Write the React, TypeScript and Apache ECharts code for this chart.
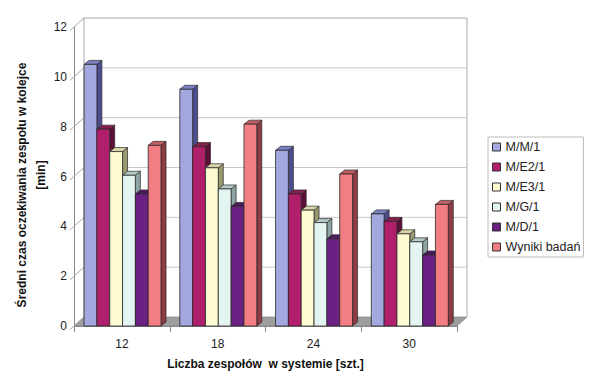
import React, { useEffect, useRef } from "react";
import * as echarts from "echarts";

const categories = ["12", "18", "24", "30"];
const seriesNames = ["M/M/1", "M/E2/1", "M/E3/1", "M/G/1", "M/D/1", "Wyniki badań"];
const mm1 = [10.5, 9.5, 7.05, 4.5];
const me21 = [7.9, 7.2, 5.3, 4.2];
const me31 = [7.0, 6.35, 4.65, 3.7];
const mg1 = [6.05, 5.5, 4.15, 3.38];
const md1 = [5.3, 4.8, 3.5, 2.85];
const wyniki = [7.25, 8.1, 6.1, 4.88];
const seriesValues = [mm1, me21, me31, mg1, md1, wyniki];
const yTicks = [0, 2, 4, 6, 8, 10, 12];

const frontColors = ["#a3a8de", "#b01f6b", "#fdfbd0", "#e4f4f1", "#6b2183", "#f27d82"];
const sideColors = ["#4c4c90", "#5c1038", "#9a9870", "#8ea4a2", "#3a0f47", "#8c3c42"];
const topColors = ["#7c80c4", "#85204f", "#d8d6a8", "#b4cac8", "#4e1a5e", "#c26066"];

const WALL_DX = 10;
const WALL_DY = -9;
const BAR_DX = 5;
const BAR_DY = -4;

export default function App() {
  const ref = useRef<HTMLDivElement>(null);
  useEffect(() => {
    if (!ref.current) return;
    const chart = echarts.init(ref.current, null, { renderer: "svg" });

    const barSeries = seriesValues.map((vals, k) => ({
      type: "custom",
      name: seriesNames[k],
      z: 3,
      itemStyle: { color: frontColors[k] },
      data: vals.map((v, i) => [i, v]),
      renderItem: (params: any, api: any) => {
        const ci = api.value(0);
        const v = api.value(1);
        const top = api.coord([ci, v]);
        const base = api.coord([ci, 0]);
        const band = api.size([1, 0])[0];
        const w = band * 0.134;
        const x = top[0] - band / 2 + band * 0.105 + k * w;
        const yT = top[1];
        const yB = base[1];
        const stroke = "#2a2a2a";
        return {
          type: "group",
          children: [
            {
              type: "polygon",
              shape: {
                points: [
                  [x + w, yT],
                  [x + w + BAR_DX, yT + BAR_DY],
                  [x + w + BAR_DX, yB + BAR_DY],
                  [x + w, yB],
                ],
              },
              style: { fill: sideColors[k], stroke, lineWidth: 0.7 },
            },
            {
              type: "polygon",
              shape: {
                points: [
                  [x, yT],
                  [x + BAR_DX, yT + BAR_DY],
                  [x + w + BAR_DX, yT + BAR_DY],
                  [x + w, yT],
                ],
              },
              style: { fill: topColors[k], stroke, lineWidth: 0.7 },
            },
            {
              type: "rect",
              shape: { x, y: yT, width: w, height: yB - yT },
              style: { fill: frontColors[k], stroke, lineWidth: 0.8 },
            },
          ],
        };
      },
    }));

    const frameSeries = {
      type: "custom",
      name: "frame",
      z: 1,
      silent: true,
      data: yTicks.map((v) => [0, v]),
      renderItem: (params: any, api: any) => {
        const cs = params.coordSys;
        const v = api.value(1);
        const y = api.coord([0, v])[1];
        const x0 = cs.x;
        const x1 = cs.x + cs.width;
        const children: any[] = [];
        if (v === 0) {
          const yTop = api.coord([0, yTicks[yTicks.length - 1]])[1];
          children.push({
            type: "polygon",
            shape: {
              points: [
                [x0, y],
                [x1, y],
                [x1 + WALL_DX, y + WALL_DY],
                [x0 + WALL_DX, y + WALL_DY],
              ],
            },
            style: { fill: "#9e9e9e", stroke: "#8a8a8a", lineWidth: 0.8 },
          });
          children.push({
            type: "line",
            shape: { x1: x0 + WALL_DX, y1: yTop + WALL_DY, x2: x0 + WALL_DX, y2: y + WALL_DY },
            style: { stroke: "#a8a8a8", lineWidth: 1 },
          });
          children.push({
            type: "line",
            shape: { x1: x1 + WALL_DX, y1: yTop + WALL_DY, x2: x1 + WALL_DX, y2: y + WALL_DY },
            style: { stroke: "#a8a8a8", lineWidth: 1 },
          });
        } else {
          children.push({
            type: "line",
            shape: { x1: x0 + WALL_DX, y1: y + WALL_DY, x2: x1 + WALL_DX, y2: y + WALL_DY },
            style: { stroke: v === 12 ? "#a8a8a8" : "#c8c8c8", lineWidth: 1 },
          });
        }
        children.push({
          type: "line",
          shape: { x1: x0 - 4, y1: y + 3.6, x2: x0 + WALL_DX, y2: y + WALL_DY },
          style: { stroke: "#a8a8a8", lineWidth: 1 },
        });
        return { type: "group", children };
      },
    };

    chart.setOption({
      animation: false,
      backgroundColor: "#ffffff",
      textStyle: { fontFamily: "Liberation Sans, Arial, sans-serif" },
      grid: { left: 74, top: 27, width: 383, height: 299 },
      legend: {
        orient: "vertical",
        left: 488,
        top: 137,
        data: seriesNames,
        icon: "rect",
        itemWidth: 8,
        itemHeight: 8,
        itemGap: 6,
        padding: [3, 3, 3, 4],
        borderColor: "#bdbdbd",
        borderWidth: 1,
        itemStyle: { borderColor: "#333333", borderWidth: 1 },
        textStyle: { fontSize: 12.5, lineHeight: 14, color: "#222222" },
      },
      xAxis: {
        type: "category",
        data: categories,
        axisLine: { show: true, lineStyle: { color: "#888888" } },
        axisTick: { show: true, length: 6, lineStyle: { color: "#888888" } },
        axisLabel: { fontSize: 12, color: "#222222", margin: 12 },
        splitLine: { show: false },
        name: "Liczba zespołów  w systemie [szt.]",
        nameLocation: "middle",
        nameGap: 32,
        nameTextStyle: { fontSize: 12, fontWeight: "bold", color: "#111111" },
      },
      yAxis: {
        type: "value",
        min: 0,
        max: 12,
        interval: 2,
        axisLine: { show: true, lineStyle: { color: "#888888" } },
        axisTick: { show: false },
        axisLabel: { fontSize: 12, color: "#222222", margin: 7 },
        splitLine: { show: false },
      },
      graphic: [
        {
          type: "text",
          x: 22,
          y: 185,
          rotation: Math.PI / 2,
          style: {
            text: "Średni czas oczekiwania zespołu w kolejce",
            font: "bold 12px 'Liberation Sans', Arial, sans-serif",
            fill: "#111111",
            textAlign: "center",
            textVerticalAlign: "middle",
          },
        },
        {
          type: "text",
          x: 41,
          y: 175,
          rotation: Math.PI / 2,
          style: {
            text: "[min]",
            font: "bold 12px 'Liberation Sans', Arial, sans-serif",
            fill: "#111111",
            textAlign: "center",
            textVerticalAlign: "middle",
          },
        },
      ],
      series: [...barSeries, frameSeries],
    });

    return () => chart.dispose();
  }, []);

  return (
    <div
      ref={ref}
      style={{ position: "fixed", left: 0, top: 0, width: 590, height: 384 }}
    />
  );
}
